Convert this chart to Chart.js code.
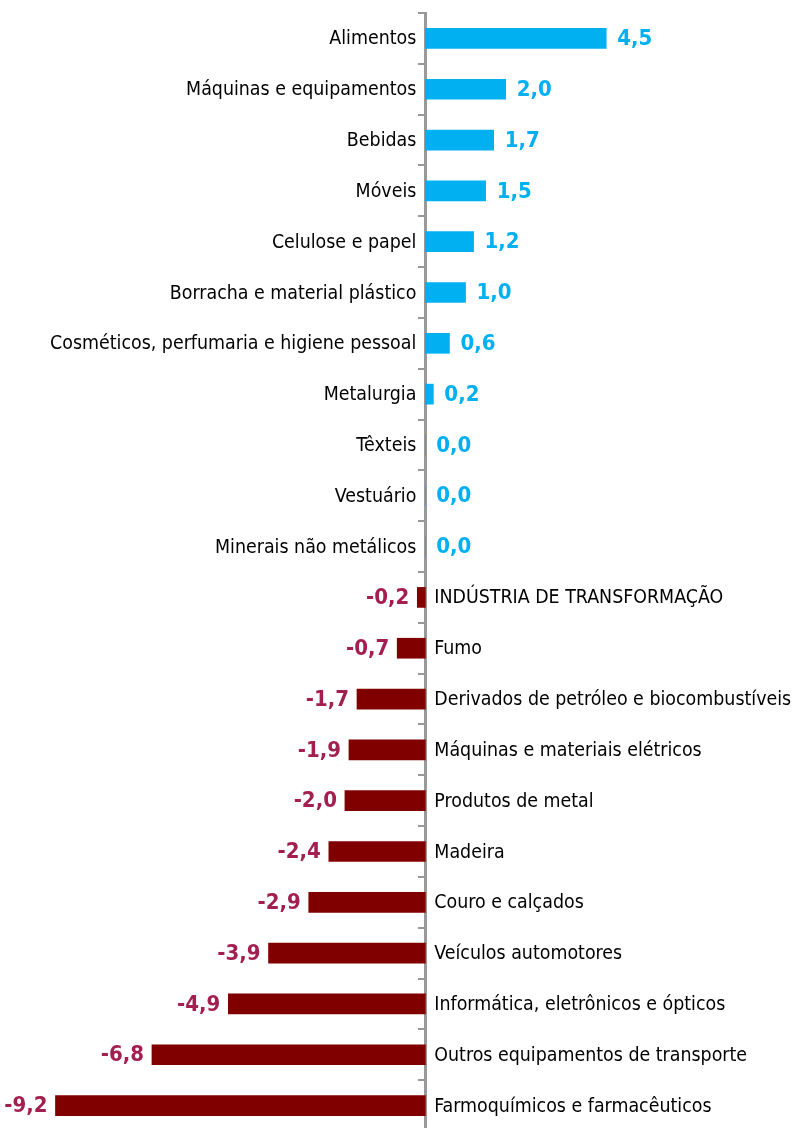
<!DOCTYPE html>
<html><head><meta charset="utf-8">
<script src="https://cdn.jsdelivr.net/npm/chart.js@4"></script>
<style>html,body{margin:0;padding:0;background:#fff;overflow:hidden}#wrap{width:798px;height:1131px;position:relative}</style>
</head><body><div id="wrap"><canvas id="c"></canvas></div>
<script>
const categories = ["Alimentos","Máquinas e equipamentos","Bebidas","Móveis","Celulose e papel","Borracha e material plástico","Cosméticos, perfumaria e higiene pessoal","Metalurgia","Têxteis","Vestuário","Minerais não metálicos","INDÚSTRIA DE TRANSFORMAÇÃO","Fumo","Derivados de petróleo e biocombustíveis","Máquinas e materiais elétricos","Produtos de metal","Madeira","Couro e calçados","Veículos automotores","Informática, eletrônicos e ópticos","Outros equipamentos de transporte","Farmoquímicos e farmacêuticos"];
const values = [4.5,2.0,1.7,1.5,1.2,1.0,0.6,0.2,0.0,0.0,0.0,-0.2,-0.7,-1.7,-1.9,-2.0,-2.4,-2.9,-3.9,-4.9,-6.8,-9.2];

const POS_BAR = '#00B0F0', NEG_BAR = '#800000', POS_TXT = '#00B0F0', NEG_TXT = '#A31F4F';
const CAT_FONT = '19.4px "DejaVu Sans Condensed", "DejaVu Sans", sans-serif';
const VAL_FONT = 'bold 22px "DejaVu Sans Condensed", "DejaVu Sans", sans-serif';

const labelPlugin = {
  id: 'labels',
  afterDatasetsDraw(chart) {
    const ctx = chart.ctx;
    const xs = chart.scales.x;
    const zero = xs.getPixelForValue(0);
    const meta = chart.getDatasetMeta(0);
    ctx.save();
    ctx.textBaseline = 'middle';
    try { ctx.fontStretch = 'condensed'; } catch (e) {}
    meta.data.forEach((bar, i) => {
      const v = values[i];
      const y = bar.y + 1;
      const txt = v.toFixed(1).replace('.', ',');
      ctx.font = VAL_FONT;
      if (v >= 0) {
        ctx.fillStyle = POS_TXT; ctx.textAlign = 'left';
        ctx.fillText(txt, Math.max(bar.x, zero) + 11, y);
        ctx.font = CAT_FONT; ctx.fillStyle = '#000'; ctx.textAlign = 'right';
        ctx.fillText(categories[i], zero - 9, y);
      } else {
        ctx.fillStyle = NEG_TXT; ctx.textAlign = 'right';
        ctx.fillText(txt, bar.x - 8, y);
        ctx.font = CAT_FONT; ctx.fillStyle = '#000'; ctx.textAlign = 'left';
        ctx.fillText(categories[i], zero + 9, y);
      }
    });
    ctx.restore();
  }
};

new Chart(document.getElementById('c'), {
  type: 'bar',
  data: {
    labels: categories,
    datasets: [{
      data: values,
      backgroundColor: values.map(v => v >= 0 ? POS_BAR : NEG_BAR),
      barThickness: 20,
      borderWidth: 0
    }]
  },
  options: {
    indexAxis: 'y',
    responsive: true,
    maintainAspectRatio: false,
    animation: false,
    layout: { padding: { top: 13, bottom: 0, left: 0, right: 0 } },
    plugins: { legend: { display: false }, tooltip: { enabled: false } },
    scales: {
      x: { display: false, min: -10.58, max: 9.27 },
      y: {
        position: { x: 0 },
        ticks: { display: false },
        grid: { drawOnChartArea: false, offset: true, drawTicks: true, tickLength: 6, color: '#999', lineWidth: 2 },
        border: { color: '#999', width: 3 }
      }
    }
  },
  plugins: [labelPlugin]
});
</script></body></html>
